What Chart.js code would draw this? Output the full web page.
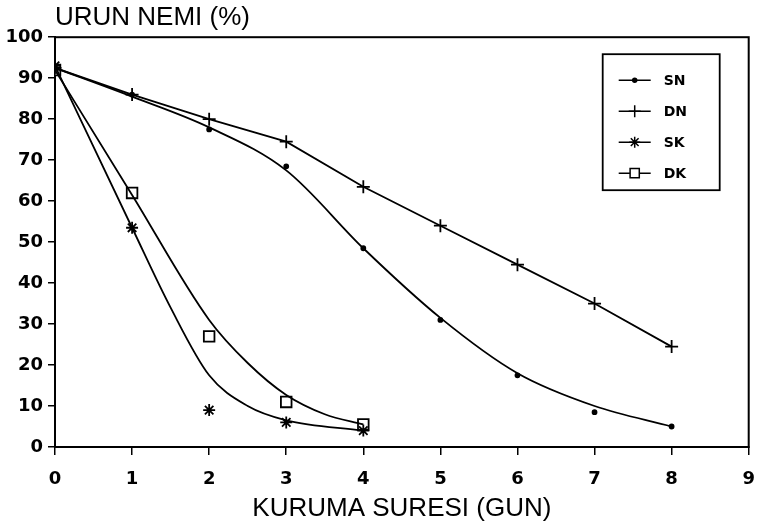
<!DOCTYPE html>
<html>
<head>
<meta charset="utf-8">
<script src="https://cdn.jsdelivr.net/npm/chart.js@4/dist/chart.umd.min.js"></script>
<style>
  html, body { margin: 0; padding: 0; background: #fff; }
  #wrap { width: 758px; height: 527px; }
</style>
</head>
<body>
<div id="wrap"><canvas id="c"></canvas></div>
<script>
// Ölçülen noktalar (gün -> ürün nemi %)
const days = [0, 1, 2, 3, 4, 5, 6, 7, 8];
const snValues = [92.5, 86, 77.5, 68.5, 48.5, 31, 17.5, 8.5, 5];
const dnValues = [92.5, 86, 80, 74.5, 63.5, 54, 44.5, 35, 24.5];
const kDays = [0, 1, 2, 3, 4];
const skValues = [93, 53.5, 9, 6, 4];
const dkValues = [92, 62, 27, 11, 5.5];

// Eğri uydurma çizgileri
const snFitX = [0, 1, 2, 3, 4, 5, 6, 7, 8];
const snFitY = [92.5, 85.5, 78, 67.5, 48.5, 31.5, 18, 10, 5];
const skFitX = [0, 1, 1.5, 2, 2.5, 3, 4];
const skFitY = [93, 53.5, 34, 17.5, 10, 6.5, 4];
const dkFitX = [0, 1, 2, 2.5, 3, 3.5, 4];
const dkFitY = [92, 61.5, 31, 20.5, 12.7, 8, 5.5];

const xTicks = [0, 1, 2, 3, 4, 5, 6, 7, 8, 9];
const legendNames = ['SN', 'DN', 'SK', 'DK'];
const legendStyles = ['circle', 'cross', 'star', 'rect'];

const pts = (xs, ys) => xs.map((x, i) => ({ x: x, y: ys[i] }));
const INK = '#000';

const fitLine = (data) => ({
    data: data,
    showLine: true,
    borderColor: INK,
    borderWidth: 1.8,
    pointRadius: 0,
    cubicInterpolationMode: 'monotone',
    fill: false
});

const marks = (data, style, r) => ({
    data: data,
    showLine: false,
    pointStyle: style,
    pointRadius: r,
    borderColor: INK,
    backgroundColor: style === 'rect' ? '#fff' : INK,
    borderWidth: 1.8
});

const framePlugin = {
    id: 'frame',
    beforeDatasetsDraw(chart) {
        const { ctx, chartArea: a } = chart;
        ctx.save();
        ctx.strokeStyle = INK;
        ctx.lineWidth = 2;
        ctx.strokeRect(a.left, a.top, a.right - a.left, a.bottom - a.top);
        ctx.restore();
    }
};

const boxLegend = {
    id: 'boxLegend',
    afterDraw(chart) {
        const { ctx, chartArea: a } = chart;
        const left = a.right - 146, top = a.top + 17;
        ctx.save();
        ctx.fillStyle = '#fff';
        ctx.fillRect(left, top, 117, 136);
        ctx.strokeStyle = INK;
        ctx.lineWidth = 1.8;
        ctx.strokeRect(left, top, 117, 136);

        const radii = [2, 6, 5.5, 6.5];
        legendNames.forEach((name, i) => {
            const y = top + 26 + i * 31;
            ctx.strokeStyle = INK;
            ctx.lineWidth = 1.5;
            ctx.beginPath();
            ctx.moveTo(left + 16, y);
            ctx.lineTo(left + 48, y);
            ctx.stroke();
            ctx.fillStyle = legendStyles[i] === 'rect' ? '#fff' : INK;
            Chart.helpers.drawPoint(ctx, {
                pointStyle: legendStyles[i],
                radius: radii[i],
                borderWidth: 1.6,
                rotation: 0
            }, left + 32, y);
            ctx.fillStyle = INK;
            ctx.font = 'bold 14px "DejaVu Sans"';
            ctx.textBaseline = 'middle';
            ctx.fillText(name, left + 61, y + 1);
        });
        ctx.restore();
    }
};

new Chart(document.getElementById('c'), {
    type: 'scatter',
    data: {
        datasets: [
            fitLine(pts(snFitX, snFitY)),
            fitLine(pts(skFitX, skFitY)),
            fitLine(pts(dkFitX, dkFitY)),
            {
                data: pts(days, dnValues),
                showLine: true,
                tension: 0,
                borderColor: INK,
                borderWidth: 1.8,
                pointStyle: 'cross',
                pointRadius: 6.5,
                pointBorderWidth: 1.8,
                backgroundColor: INK
            },
            marks(pts(days, snValues), 'circle', 2),
            marks(pts(kDays, skValues), 'star', 6),
            marks(pts(kDays, dkValues), 'rect', 7.5)
        ]
    },
    options: {
        responsive: true,
        maintainAspectRatio: false,
        animation: false,
        layout: { padding: { left: 0, right: 4, top: 0, bottom: 0 } },
        plugins: {
            legend: { display: false },
            tooltip: { enabled: false },
            title: {
                display: true,
                text: 'URUN NEMI (%)',
                align: 'start',
                fullSize: false,
                color: INK,
                font: { family: '"Liberation Sans", Arial, sans-serif', size: 26, weight: 'normal' },
                padding: { top: 2, bottom: 4 }
            }
        },
        scales: {
            x: {
                type: 'linear',
                min: 0,
                max: 9,
                afterBuildTicks: s => { s.ticks = xTicks.map(v => ({ value: v })); },
                afterFit: s => { s.height = 80; s.paddingRight = 0; s.paddingLeft = 0; },
                ticks: {
                    color: INK,
                    padding: 14,
                    font: { family: '"DejaVu Sans"', size: 18, weight: 'bold' }
                },
                grid: { drawOnChartArea: false, tickLength: 8, color: INK, lineWidth: 1.5 },
                border: { color: INK, width: 2 },
                title: {
                    display: true,
                    text: 'KURUMA SURESI (GUN)',
                    color: INK,
                    font: { family: '"Liberation Sans", Arial, sans-serif', size: 26, weight: 'normal' },
                    padding: { top: 4, bottom: 3 }
                }
            },
            y: {
                min: 0,
                max: 100,
                afterFit: s => { s.width = 55; },
                ticks: {
                    stepSize: 10,
                    color: INK,
                    padding: 5,
                    font: { family: '"DejaVu Sans"', size: 18, weight: 'bold' }
                },
                grid: { drawOnChartArea: false, tickLength: 7, color: INK, lineWidth: 1.5 },
                border: { color: INK, width: 2 }
            }
        }
    },
    plugins: [framePlugin, boxLegend]
});
</script>
</body>
</html>
